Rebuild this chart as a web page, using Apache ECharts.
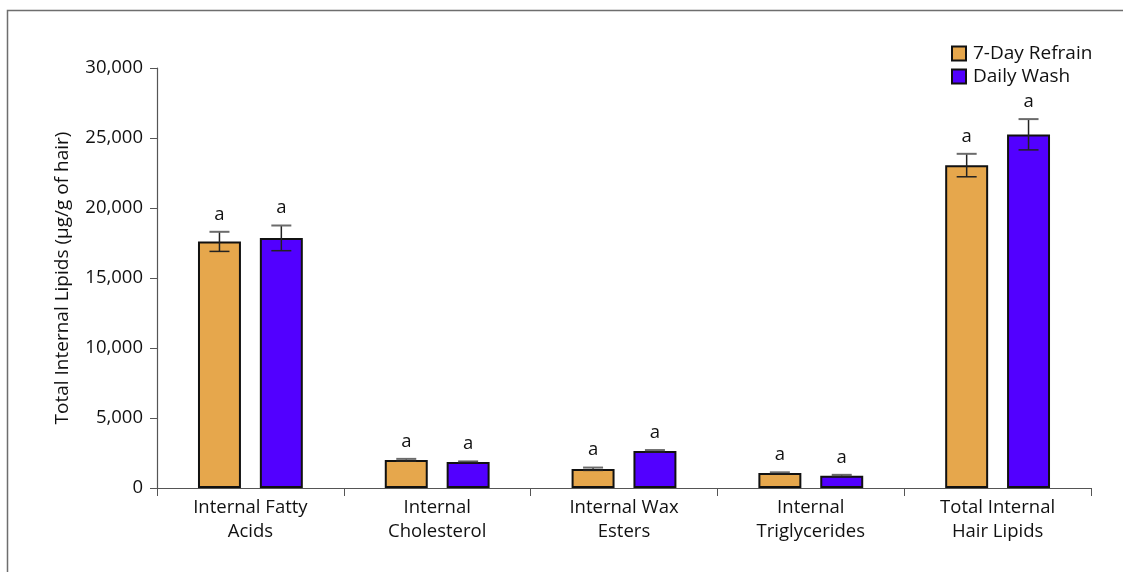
<!DOCTYPE html>
<html>
<head>
<meta charset="utf-8">
<script src="https://cdn.jsdelivr.net/npm/echarts@6/dist/echarts.min.js"></script>
<style>
  html, body { margin: 0; padding: 0; background: #fff; }
  #chart { width: 1123px; height: 572px; }
</style>
</head>
<body>
<div id="chart"></div>
<script>
// Lipid classes on the x axis
const categories = [
  'Internal Fatty\nAcids',
  'Internal\nCholesterol',
  'Internal Wax\nEsters',
  'Internal\nTriglycerides',
  'Total Internal\nHair Lipids'
];

// Group means (µg/g of hair)
const refrainValues = [17600, 2000, 1360, 1070, 23050];
const washValues    = [17850, 1860, 2640,  880, 25250];

// Standard errors
const refrainErrors = [700, 80, 100, 50, 820];
const washErrors    = [900, 40, 70, 60, 1100];

// Significance letters
const refrainLetters = ['a', 'a', 'a', 'a', 'a'];
const washLetters    = ['a', 'a', 'a', 'a', 'a'];

const seriesNames = ['7-Day Refrain', 'Daily Wash'];
const yTicks = [0, 5000, 10000, 15000, 20000, 25000, 30000];

const FONT = '"Open Sans", "Noto Sans", sans-serif';
const BAR_WIDTH_RATIO = 0.23;
const BAR_GAP_RATIO = 0.44;

function errorItem(values, errors, letters, side) {
  return function (params, api) {
    const i = api.value(0);
    const v = api.value(1);
    const e = api.value(2);
    const band = api.size([1, 0])[0];
    const bw = band * BAR_WIDTH_RATIO;
    const off = side * bw * (1 + BAR_GAP_RATIO) / 2;
    const top = api.coord([i, v + e]);
    const bot = api.coord([i, v - e]);
    const x = top[0] + off;
    const cap = 10;
    const stroke = { stroke: '#222', lineWidth: 1.5 };
    const capStroke = { stroke: '#6b6b6b', lineWidth: 2 };
    return {
      type: 'group',
      children: [
        { type: 'line', shape: { x1: x, y1: top[1], x2: x, y2: bot[1] }, style: stroke },
        { type: 'line', shape: { x1: x - cap, y1: top[1], x2: x + cap, y2: top[1] }, style: capStroke },
        { type: 'line', shape: { x1: x - cap, y1: bot[1], x2: x + cap, y2: bot[1] }, style: stroke },
        {
          type: 'text',
          x: x, y: top[1] - 8,
          style: {
            text: letters[i], fill: '#111', font: '18.5px ' + FONT,
            align: 'center', verticalAlign: 'bottom'
          }
        }
      ]
    };
  };
}

function errData(values, errors) {
  return values.map((v, i) => [i, v, errors[i]]);
}

const chart = echarts.init(document.getElementById('chart'), null, { renderer: 'canvas' });

chart.setOption({
  backgroundColor: '#fff',
  animation: false,
  textStyle: { fontFamily: FONT },
  graphic: [
    {
      type: 'polyline',
      shape: { points: [[7.5, 572], [7.5, 10.5], [1123, 10.5]] },
      style: { stroke: '#6e6e6e', lineWidth: 1.5, fill: null },
      silent: true
    }
  ],
  legend: {
    left: 946,
    top: 39,
    orient: 'vertical',
    itemWidth: 14,
    itemHeight: 14,
    itemGap: 4,
    icon: 'rect',
    textStyle: { fontSize: 19, color: '#111', fontFamily: FONT, padding: [0, 0, 0, 2] },
    data: seriesNames
  },
  grid: { left: 157, right: 32, top: 68, bottom: 84, containLabel: false },
  xAxis: {
    type: 'category',
    data: categories,
    axisLine: { lineStyle: { color: '#555', width: 1.2 } },
    axisTick: { show: true, length: 8, alignWithLabel: false, lineStyle: { color: '#555' } },
    axisLabel: { color: '#111', fontSize: 18.5, lineHeight: 24, margin: 8, fontFamily: FONT, interval: 0 }
  },
  yAxis: {
    type: 'value',
    min: 0,
    max: 30000,
    interval: 5000,
    name: 'Total Internal Lipids (μg/g of hair)',
    nameLocation: 'middle',
    nameGap: 85,
    nameTextStyle: { fontSize: 19, color: '#111', fontFamily: FONT },
    axisLine: { show: true, lineStyle: { color: '#555', width: 1.2 } },
    axisTick: { show: true, length: 7, lineStyle: { color: '#555' } },
    splitLine: { show: false },
    axisLabel: {
      color: '#111', fontSize: 18.5, margin: 14, fontFamily: FONT,
      formatter: v => yTicks.includes(v) ? v.toLocaleString('en-US') : ''
    }
  },
  series: [
    {
      name: seriesNames[0],
      type: 'bar',
      data: refrainValues,
      barWidth: (BAR_WIDTH_RATIO * 100) + '%',
      barGap: (BAR_GAP_RATIO * 100) + '%',
      itemStyle: { color: '#E6A74C', borderColor: '#111', borderWidth: 2 }
    },
    {
      name: seriesNames[1],
      type: 'bar',
      data: washValues,
      barWidth: (BAR_WIDTH_RATIO * 100) + '%',
      barGap: (BAR_GAP_RATIO * 100) + '%',
      itemStyle: { color: '#5200FF', borderColor: '#111', borderWidth: 2 }
    },
    {
      type: 'custom',
      name: 'refrainErr',
      renderItem: errorItem(refrainValues, refrainErrors, refrainLetters, -1),
      data: errData(refrainValues, refrainErrors),
      encode: { x: 0, y: 1 },
      z: 10,
      silent: true
    },
    {
      type: 'custom',
      name: 'washErr',
      renderItem: errorItem(washValues, washErrors, washLetters, 1),
      data: errData(washValues, washErrors),
      encode: { x: 0, y: 1 },
      z: 10,
      silent: true
    }
  ]
});
</script>
</body>
</html>
